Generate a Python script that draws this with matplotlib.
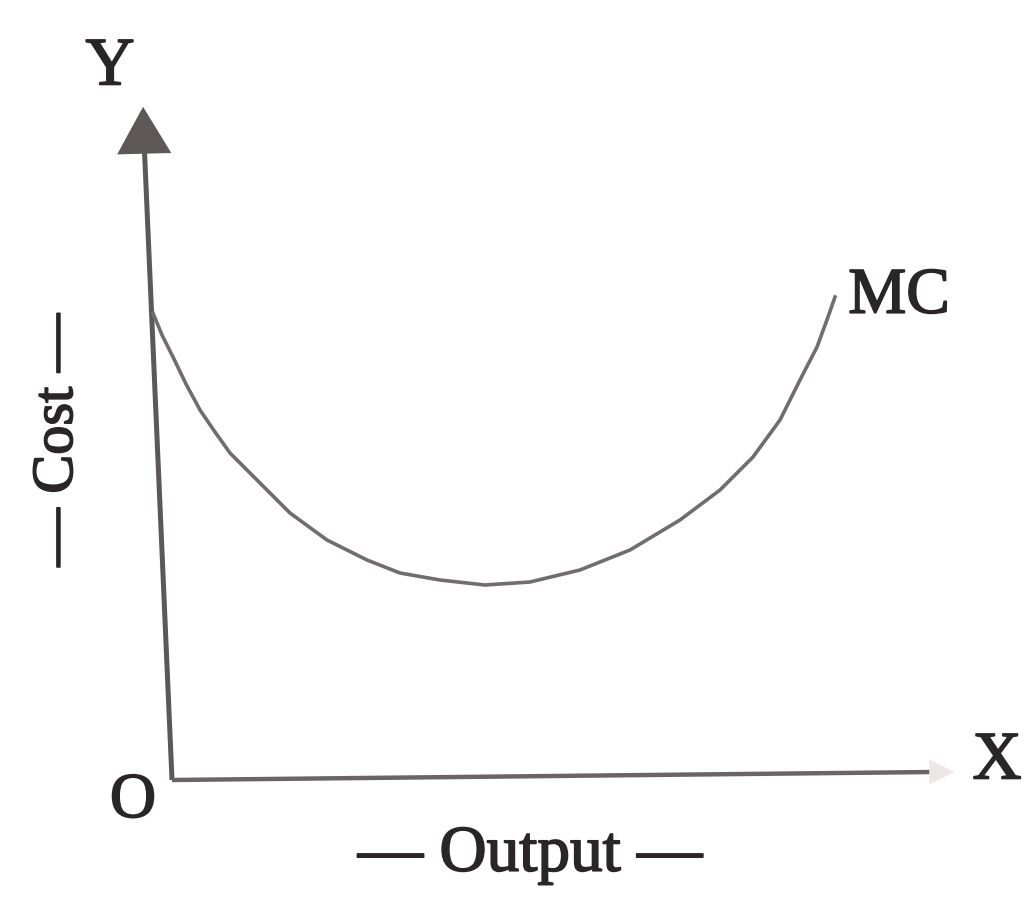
import matplotlib.pyplot as plt
import matplotlib.patheffects as pe

# MC curve (output, cost), origin at O
mc_output = [-19, -10, 1, 14, 28, 43, 58, 85, 118, 155, 195, 228, 268, 313,
             358, 408, 458, 508, 548, 581, 608, 628, 645, 656, 663]
mc_cost = [467, 445, 423, 396, 370, 348, 327, 300, 267, 240, 220, 207, 200, 195,
           198, 210, 230, 260, 290, 323, 360, 400, 433, 463, 483]

# axis ends (the printed y axis leans a little)
y_axis_x = [0, -28]
y_axis_y = [0, 640]
x_axis_x = [0, 762]
x_axis_y = [0, 8]

fig = plt.figure(figsize=(10.24, 8.98), dpi=100)
ax = fig.add_axes([0, 0, 1, 1])
ax.set_xlim(-172, 852)
ax.set_ylim(-118, 780)
ax.axis("off")

ink = "#5e5758"
text_ink = "#2a2628"
font = "Liberation Serif"
bolder = [pe.withStroke(linewidth=1.2, foreground=text_ink)]

# axes
ax.plot(y_axis_x, y_axis_y, color=ink, lw=3.6, solid_capstyle="butt")
ax.plot(x_axis_x, x_axis_y, color="#6b6466", lw=3.2, solid_capstyle="butt")
ax.annotate("", xy=(-29, 676), xytext=(-28, 636),
            arrowprops=dict(arrowstyle="-|>,head_length=1.3,head_width=0.75",
                            color=ink, lw=0, mutation_scale=26))
ax.annotate("", xy=(785, 8), xytext=(762, 8),
            arrowprops=dict(arrowstyle="-|>,head_length=0.9,head_width=0.45",
                            color="#ece6e6", lw=0, mutation_scale=20))

# MC curve
ax.plot(mc_output, mc_cost, color="#716c70", lw=2.6)

# labels
ax.text(-62, 712, "Y", fontsize=49, family=font, color=text_ink, ha="center", va="center",
        path_effects=bolder)
ax.text(825, 18, "X", fontsize=49, family=font, color=text_ink, ha="center", va="center",
        path_effects=bolder)
ax.text(-39, -22, "O", fontsize=46, family=font, color=text_ink, ha="center", va="center",
        path_effects=bolder)
ax.text(727, 483, "MC", fontsize=47, family=font, color=text_ink, ha="center", va="center",
        path_effects=bolder)
ax.text(-114, 340, "— Cost —", fontsize=42, family=font, color=text_ink,
        ha="center", va="center", rotation=90, path_effects=bolder)
ax.text(358, -75, "— Output —", fontsize=47, family=font, color=text_ink,
        ha="center", va="center", path_effects=bolder)

fig.savefig("out.png", dpi=100, facecolor="white")
